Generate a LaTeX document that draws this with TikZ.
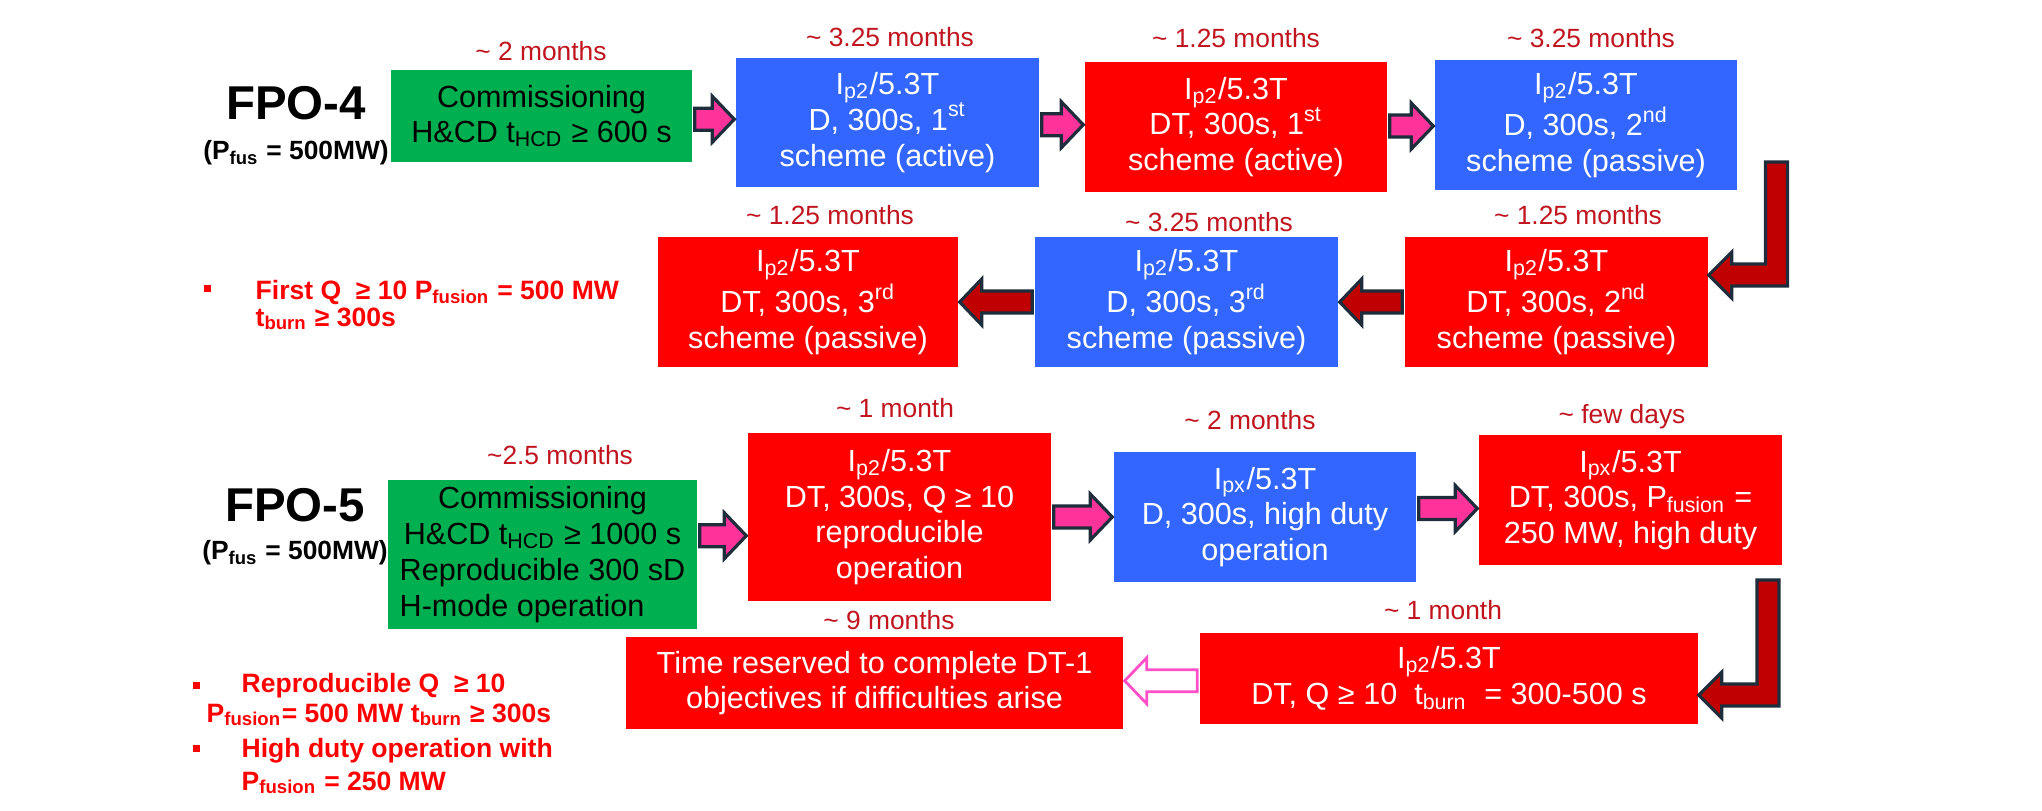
\documentclass[tikz,border=0pt]{standalone}
\usepackage{fontspec}
\setmainfont{Liberation Sans}
\usepackage{xcolor}
\usepackage{calc}
\usepackage{tikz}
\usetikzlibrary{calc}

\definecolor{boxgreen}{RGB}{0,176,80}
\definecolor{boxblue}{RGB}{51,102,255}
\definecolor{boxred}{RGB}{255,0,0}
\definecolor{monthred}{RGB}{192,20,30}
\definecolor{arrowpink}{RGB}{255,51,153}
\definecolor{arrowdark}{RGB}{192,0,0}
\definecolor{arrowline}{RGB}{30,45,60}
\definecolor{hollowpink}{RGB}{255,80,200}

\newcommand\boxfont{\fontsize{8.7}{10.2}\selectfont}
\newcommand\monthfont{\fontsize{7.5}{9}\selectfont}
\newcommand\notefont{\fontsize{7.55}{8.5}\selectfont\bfseries}

\newcommand\arrshaft{0.11cm}
\newcommand\arrhead{0.23cm}
\newcommand\arrlen{0.23cm}

% block arrow pointing right, from #2 to #3
\newcommand\rblock[3]{%
  \draw[#1] let \p1=(#2.east), \p2=(#3.west), \p3=($(#2.center)!0.5!(#3.center)$) in
    (\x1+0.02cm,\y3-\arrshaft) -- (\x2-\arrlen,\y3-\arrshaft) -- (\x2-\arrlen,\y3-\arrhead)
    -- (\x2-0.01cm,\y3) -- (\x2-\arrlen,\y3+\arrhead) -- (\x2-\arrlen,\y3+\arrshaft)
    -- (\x1+0.02cm,\y3+\arrshaft) -- cycle;}
% block arrow pointing left, from #2 to #3
\newcommand\lblock[3]{%
  \draw[#1] let \p1=(#2.west), \p2=(#3.east), \p3=($(#2.center)!0.5!(#3.center)$) in
    (\x1-0.02cm,\y3-\arrshaft) -- (\x2+\arrlen,\y3-\arrshaft) -- (\x2+\arrlen,\y3-\arrhead)
    -- (\x2+0.01cm,\y3) -- (\x2+\arrlen,\y3+\arrhead) -- (\x2+\arrlen,\y3+\arrshaft)
    -- (\x1-0.02cm,\y3+\arrshaft) -- cycle;}
% bent arrow, down from #1 then left into #2
\newcommand\bentblock[3]{%
  \draw[darkarrow] let \p1=(#1), \p2=($(#2.east)+(0,#3)$) in
    (\x1-\arrshaft,\y1) -- (\x1+\arrshaft,\y1) -- (\x1+\arrshaft,\y2-\arrshaft)
    -- (\x2+\arrlen,\y2-\arrshaft) -- (\x2+\arrlen,\y2-\arrhead) -- (\x2,\y2)
    -- (\x2+\arrlen,\y2+\arrhead) -- (\x2+\arrlen,\y2+\arrshaft)
    -- (\x1-\arrshaft,\y2+\arrshaft) -- cycle;}

\begin{document}
\begin{tikzpicture}[
  box/.style={rectangle, inner sep=0pt, minimum width=3.02cm, minimum height=1.3cm, align=center, font=\boxfont},
  greenbox/.style={box, fill=boxgreen, text=black},
  bluebox/.style={box, fill=boxblue, text=white},
  redbox/.style={box, fill=boxred, text=white},
  months/.style={inner sep=0pt, text=monthred, font=\monthfont},
  phase/.style={inner sep=0pt, font=\fontsize{13.5}{15}\selectfont\bfseries},
  power/.style={inner sep=0pt, font=\fontsize{7.5}{9}\selectfont\bfseries},
  goal/.style={inner sep=0pt, anchor=base west, text=boxred, font=\notefont},
  bulletsq/.style={rectangle, fill=boxred, inner sep=0pt, minimum size=0.07cm},
  pinkarrow/.style={fill=arrowpink, draw=arrowline, line width=0.9pt},
  darkarrow/.style={fill=arrowdark, draw=arrowline, line width=0.9pt},
  hollowarrow/.style={fill=white, draw=hollowpink, line width=0.8pt}
]
\useasboundingbox (0,0) rectangle (20.42,-8.10);

% FPO-4
\node[phase] (fpo4) at (2.96,-1.03) {FPO-4};
\node[power] (pfus4) at (2.96,-1.53) {(P\textsubscript{fus} = 500MW)};

\node[greenbox, minimum width=3.01cm, minimum height=0.92cm] (g1) at (5.415,-1.16)
  {Commissioning\\H\&CD t\textsubscript{HCD} ≥ 600 s};
\node[bluebox, minimum width=3.03cm, minimum height=1.29cm] (b1) at (8.875,-1.225)
  {I\textsubscript{p2}/5.3T\\D, 300s, 1\textsuperscript{st}\\scheme (active)};
\node[redbox] (r1) at (12.36,-1.27)
  {I\textsubscript{p2}/5.3T\\DT, 300s, 1\textsuperscript{st}\\scheme (active)};
\node[bluebox] (b2) at (15.86,-1.25)
  {I\textsubscript{p2}/5.3T\\D, 300s, 2\textsuperscript{nd}\\scheme (passive)};

\node[redbox, minimum width=3.03cm] (r2) at (15.565,-3.02)
  {I\textsubscript{p2}/5.3T\\DT, 300s, 2\textsuperscript{nd}\\scheme (passive)};
\node[bluebox, minimum width=3.03cm] (b3) at (11.865,-3.02)
  {I\textsubscript{p2}/5.3T\\D, 300s, 3\textsuperscript{rd}\\scheme (passive)};
\node[redbox, minimum width=3.0cm] (r3) at (8.08,-3.02)
  {I\textsubscript{p2}/5.3T\\DT, 300s, 3\textsuperscript{rd}\\scheme (passive)};

\node[months] (m1) at (5.41,-0.51) {\textasciitilde\ 2 months};
\node[months] (m2) at (8.90,-0.37) {\textasciitilde\ 3.25 months};
\node[months] (m3) at (12.36,-0.38) {\textasciitilde\ 1.25 months};
\node[months] (m4) at (15.91,-0.38) {\textasciitilde\ 3.25 months};
\node[months] (m5) at (8.30,-2.15) {\textasciitilde\ 1.25 months};
\node[months] (m6) at (12.09,-2.22) {\textasciitilde\ 3.25 months};
\node[months] (m7) at (15.78,-2.15) {\textasciitilde\ 1.25 months};

\node[bulletsq] (q1) at (2.07,-2.88) {};
\node[goal] (n1) at (2.55,-2.995) {First Q \ ≥ 10 P\textsubscript{fusion} = 500 MW};
\node[goal] (n2) at (2.55,-3.26) {t\textsubscript{burn} ≥ 300s};

\rblock{pinkarrow}{g1}{b1}
\rblock{pinkarrow}{b1}{r1}
\rblock{pinkarrow}{r1}{b2}
\coordinate (k1) at (17.765,-1.62);
\bentblock{k1}{r2}{0.27}
\lblock{darkarrow}{r2}{b3}
\lblock{darkarrow}{b3}{r3}

% FPO-5
\node[phase] (fpo5) at (2.95,-5.05) {FPO-5};
\node[power] (pfus5) at (2.95,-5.53) {(P\textsubscript{fus} = 500MW)};

\node[greenbox, minimum width=3.09cm, minimum height=1.49cm] (g2) at (5.425,-5.545)
  {Commissioning\\H\&CD t\textsubscript{HCD} ≥ 1000 s\\Reproducible 300 sD\\
   \makebox[\widthof{Reproducible 300 sD}][l]{H-mode operation}};
\node[redbox, minimum width=3.03cm, minimum height=1.68cm] (r4) at (8.995,-5.17)
  {I\textsubscript{p2}/5.3T\\DT, 300s, Q ≥ 10\\reproducible\\operation};
\node[bluebox] (b4) at (12.65,-5.17)
  {I\textsubscript{px}/5.3T\\D, 300s, high duty\\operation};
\node[redbox, minimum width=3.03cm] (r5) at (16.305,-5.00)
  {I\textsubscript{px}/5.3T\\DT, 300s, P\textsubscript{fusion} =\\250 MW, high duty};
\node[redbox, minimum width=4.98cm, minimum height=0.91cm] (r6) at (14.49,-6.785)
  {I\textsubscript{p2}/5.3T\\DT, Q ≥ 10 \ t\textsubscript{burn} \ = 300-500 s};
\node[redbox, minimum width=4.97cm, minimum height=0.92cm] (r7) at (8.745,-6.83)
  {Time reserved to complete DT-1\\objectives if difficulties arise};

\node[months] (m8) at (5.60,-4.55) {\textasciitilde2.5 months};
\node[months] (m9) at (8.95,-4.08) {\textasciitilde\ 1 month};
\node[months] (m10) at (12.50,-4.20) {\textasciitilde\ 2 months};
\node[months] (m11) at (16.22,-4.17) {\textasciitilde\ few days};
\node[months] (m12) at (8.89,-6.20) {\textasciitilde\ 9 months};
\node[months] (m13) at (14.43,-6.10) {\textasciitilde\ 1 month};

\node[bulletsq] (q2) at (1.96,-6.85) {};
\node[goal] (n3) at (2.41,-6.92) {Reproducible Q \ ≥ 10};
\node[goal] (n4) at (2.06,-7.22) {P\textsubscript{fusion}= 500 MW t\textsubscript{burn} ≥ 300s};
\node[bulletsq] (q3) at (1.96,-7.48) {};
\node[goal] (n5) at (2.41,-7.57) {High duty operation with};
\node[goal] (n6) at (2.41,-7.90) {P\textsubscript{fusion} = 250 MW};

\rblock{pinkarrow}{g2}{r4}
\rblock{pinkarrow}{r4}{b4}
\rblock{pinkarrow}{b4}{r5}
\coordinate (k2) at (17.68,-5.80);
\bentblock{k2}{r6}{-0.165}
\lblock{hollowarrow}{r6}{r7}
\end{tikzpicture}
\end{document}
